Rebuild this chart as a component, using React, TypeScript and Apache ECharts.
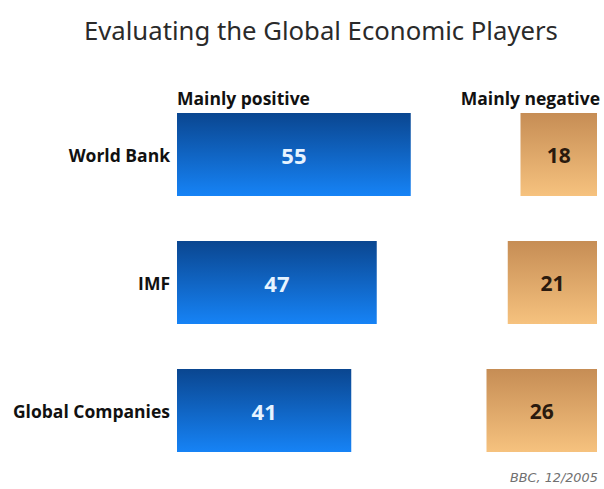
import React, { useEffect, useRef } from "react";
import * as echarts from "echarts";

const categories = ["World Bank", "IMF", "Global Companies"];
const positiveValues = [55, 47, 41];
const negativeValues = [18, 21, 26];
const seriesNames = ["Mainly positive", "Mainly negative"];
const titleText = "Evaluating the Global Economic Players";
const sourceText = "BBC, 12/2005";

export default function App() {
  const ref = useRef<HTMLDivElement>(null);
  useEffect(() => {
    if (!ref.current) return;
    const chart = echarts.init(ref.current, undefined, { renderer: "svg" });
    const blue = new echarts.graphic.LinearGradient(0, 0, 0, 1, [
      { offset: 0, color: "#0a4690" },
      { offset: 1, color: "#1683f6" },
    ]);
    const tan = new echarts.graphic.LinearGradient(0, 0, 0, 1, [
      { offset: 0, color: "#c68d55" },
      { offset: 1, color: "#f6c27e" },
    ]);
    chart.setOption({
      animation: false,
      backgroundColor: "#ffffff",
      title: {
        text: titleText,
        left: 79,
        top: 12,
        textStyle: { fontFamily: "Noto Sans", fontSize: 25.7, fontWeight: "normal", color: "#2a2a2a" },
      },
      graphic: [
        { type: "text", left: 177, top: 89, style: { text: seriesNames[0], font: "bold 17.5px 'Open Sans'", fill: "#111" } },
        { type: "text", right: 4, top: 89, style: { text: seriesNames[1], font: "bold 17.5px 'Open Sans'", fill: "#111" } },
        { type: "text", left: 510, top: 471, style: { text: sourceText, font: "italic 12.8px 'DejaVu Sans'", fill: "#707070" } },
      ],
      grid: [
        { left: 177, width: 255, top: 90.5, height: 384 },
        { right: 7, width: 127.5, top: 90.5, height: 384 },
      ],
      xAxis: [
        { gridIndex: 0, type: "value", min: 0, max: 60, show: false },
        { gridIndex: 1, type: "value", min: 0, max: 30, inverse: true, show: false },
      ],
      yAxis: [
        {
          gridIndex: 0,
          type: "category",
          data: categories,
          inverse: true,
          axisLine: { show: false },
          axisTick: { show: false },
          axisLabel: { margin: 7, fontFamily: "Open Sans", fontWeight: "bold", fontSize: 17.5, color: "#111" },
        },
        {
          gridIndex: 1,
          type: "category",
          data: categories,
          inverse: true,
          show: false,
        },
      ],
      series: [
        {
          name: seriesNames[0],
          type: "bar",
          xAxisIndex: 0,
          yAxisIndex: 0,
          data: positiveValues,
          barWidth: 83,
          itemStyle: { color: blue },
          label: {
            show: true,
            position: "inside",
            color: "#e6f3ff",
            fontFamily: "Open Sans",
            fontWeight: "bold",
            fontSize: 22,
          },
        },
        {
          name: seriesNames[1],
          type: "bar",
          xAxisIndex: 1,
          yAxisIndex: 1,
          data: negativeValues,
          barWidth: 83,
          itemStyle: { color: tan },
          label: {
            show: true,
            position: "inside",
            color: "#2a1a0e",
            fontFamily: "Open Sans",
            fontWeight: "bold",
            fontSize: 21,
          },
        },
      ],
    });
    return () => chart.dispose();
  }, []);
  return (
    <div
      ref={ref}
      style={{ position: "fixed", left: 0, top: 0, width: 604, height: 489 }}
    />
  );
}
